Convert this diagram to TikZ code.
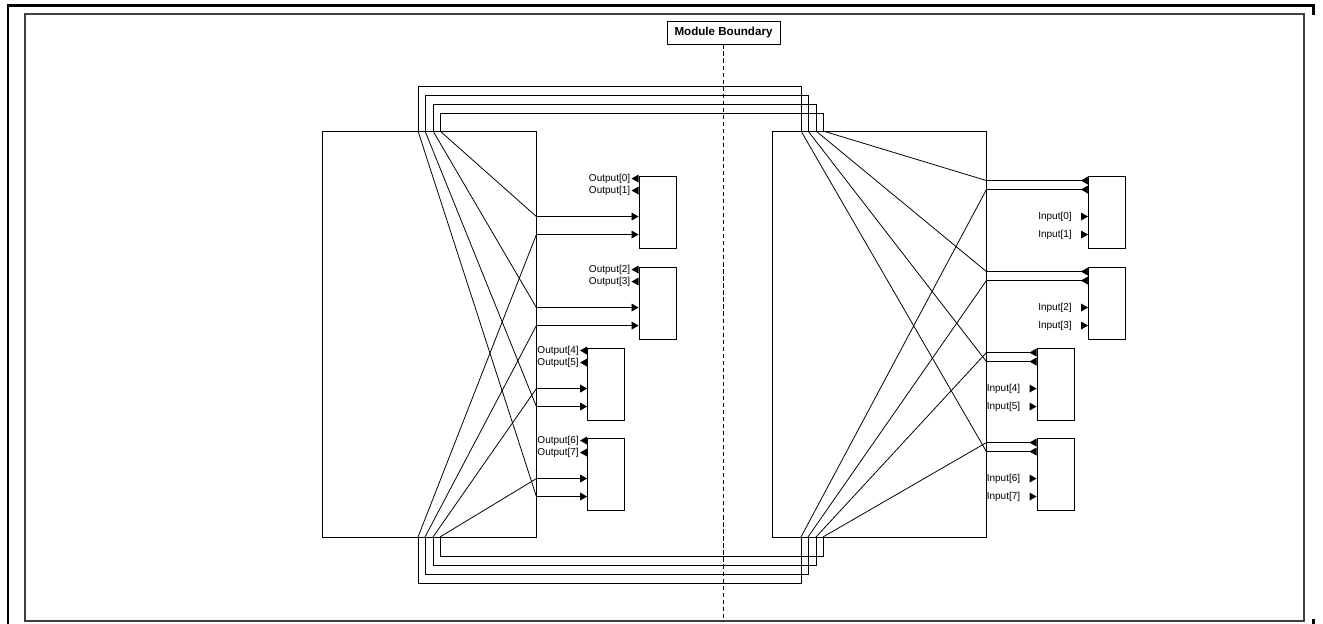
\documentclass[tikz,border=0pt]{standalone}
\usepackage{fontspec}
\setmainfont{Liberation Sans}
\usetikzlibrary{calc,arrows.meta,positioning}
\tikzset{
  blk/.style={draw,minimum width=4.28cm,minimum height=8.12cm,inner sep=0pt,line width=0.5pt},
  mdl/.style={draw,minimum width=0.74cm,minimum height=1.44cm,inner sep=0pt,line width=0.5pt},
  plabel/.style={font=\fontsize{5.7}{6}\selectfont,inner sep=0pt},
  oarr/.style={-{Triangle[reversed,length=4pt,width=4.5pt]}},
}
\newcommand{\portL}[1]{\fill (#1) ++(-7,0) -- ++(7,-4) -- ++(0,8) -- cycle;}
\newcommand{\portR}[1]{\fill (#1) -- ++(-7,-4) -- ++(0,8) -- cycle;}

\begin{document}
\begin{tikzpicture}[x=0.02cm,y=-0.02cm,line width=0.45pt,>={Triangle[length=4pt,width=4.5pt]}]
		\useasboundingbox (0,0) rectangle (1323,624);
		%Frame
		\draw[line width=1.7pt] (8,624) -- (8,6) -- (1313,6) -- (1313,15);
		\draw[line width=1.7pt] (1313,619) -- (1313,624);
		\node[draw=black!75,line width=0.8pt,minimum width=25.58cm,minimum height=12.14cm] (frame) at (664.5,317.5) {};
		\node[draw,line width=0.5pt,minimum width=2.26cm,minimum height=0.46cm,inner sep=0pt,font=\fontsize{6.6}{7}\selectfont\bfseries] (mb) at (723.5,32.5) {Module Boundary};
		\draw[dashed,dash pattern=on 2.4pt off 1.6pt] (mb.south) -- (mb.south |- frame.south);
		%Blocks
		\node[blk] (L) at (429,334) {};
		\node[blk] (R) at (879,334) {};
		\node[mdl] (A) at (657.5,212) {};
		\node[mdl] (B) at (657.5,303) {};
		\node[mdl] (C) at (606,384) {};
		\node[mdl] (D) at (606,474) {};
		\node[mdl] (E) at (1107,212) {};
		\node[mdl] (F) at (1107,303) {};
		\node[mdl] (G) at (1055.5,384) {};
		\node[mdl] (H) at (1055.5,474) {};
		%Ports
		\foreach \m in {A,B,C,D} {
			\coordinate (\m-o1) at ($(\m.north west)+(0,3)$);
			\coordinate (\m-o2) at ($(\m.north west)+(0,15)$);
		}
		\foreach \m in {E,F,G,H} {
			\coordinate (\m-o1) at ($(\m.north west)+(0,5)$);
			\coordinate (\m-o2) at ($(\m.north west)+(0,14)$);
		}
		\foreach \m in {A,B,C,D,E,F,G,H} {
			\coordinate (\m-i1) at ($(\m.north west)+(0,41)$);
			\coordinate (\m-i2) at ($(\m.north west)+(0,59)$);
		}
		\foreach \m/\k/\j in {A/0/1,B/2/3,C/4/5,D/6/7} {
			\portL{\m-o1} \portL{\m-o2}
			\node[plabel,left=1.6mm of \m-o1] (out\k) {Output[\k]};
			\node[plabel,left=1.6mm of \m-o2] (out\j) {Output[\j]};
		}
		\foreach \m/\k/\j in {E/0/1,F/2/3,G/4/5,H/6/7} {
			\portR{\m-i1} \portR{\m-i2}
			\node[plabel,left=3.2mm of \m-i1] (in\k) {Input[\k]};
			\node[plabel,left=3.2mm of \m-i2] (in\j) {Input[\j]};
		}
		%Wire ends on the blocks
		\foreach \i/\x in {1/418,2/425,3/433,4/440} {
			\coordinate (lt\i) at (\x,131);
			\coordinate (lb\i) at (\x,537);
			\coordinate (rt\i) at (\x+383,131);
			\coordinate (rb\i) at (\x+383,537);
		}
		%Loops across the boundary
		\foreach \i/\h in {1/45,2/36,3/27,4/18}
			\draw (lt\i) -- ++(0,-\h) -| (rt\i);
		\foreach \i/\h in {1/46,2/37,3/28,4/19}
			\draw (lb\i) -- ++(0,\h) -| (rb\i);
		%Left fan
		\draw[->] (lt4) -- (L.east |- A-i1) -- (A-i1);
		\draw[->] (lb1) -- (L.east |- A-i2) -- (A-i2);
		\draw[->] (lt3) -- (L.east |- B-i1) -- (B-i1);
		\draw[->] (lb2) -- (L.east |- B-i2) -- (B-i2);
		\draw[->] (lb3) -- (L.east |- C-i1) -- (C-i1);
		\draw[->] (lt2) -- (L.east |- C-i2) -- (C-i2);
		\draw[->] (lb4) -- (L.east |- D-i1) -- (D-i1);
		\draw[->] (lt1) -- (L.east |- D-i2) -- (D-i2);
		%Right fan
		\draw[oarr] (rt4) -- (R.east |- E-o1) -- (E-o1);
		\draw[oarr] (rb1) -- (R.east |- E-o2) -- (E-o2);
		\draw[oarr] (rt3) -- (R.east |- F-o1) -- (F-o1);
		\draw[oarr] (rb2) -- (R.east |- F-o2) -- (F-o2);
		\draw[oarr] (rb3) -- (R.east |- G-o1) -- (G-o1);
		\draw[oarr] (rt2) -- (R.east |- G-o2) -- (G-o2);
		\draw[oarr] (rb4) -- (R.east |- H-o1) -- (H-o1);
		\draw[oarr] (rt1) -- (R.east |- H-o2) -- (H-o2);
	\end{tikzpicture}
\end{document}
